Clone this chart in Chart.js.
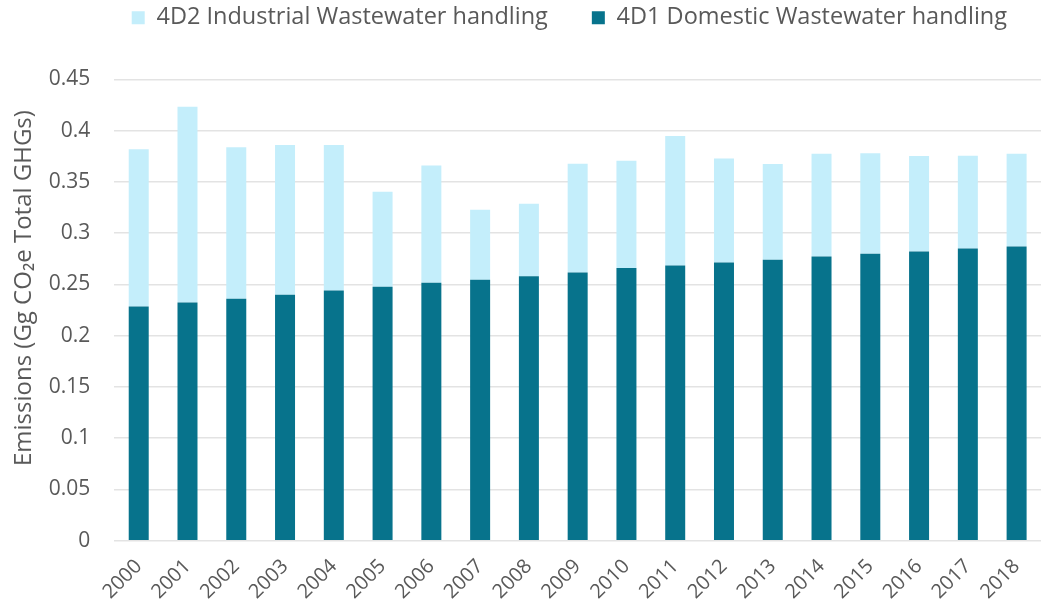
<!DOCTYPE html>
<html>
<head>
<meta charset="utf-8">
<script src="https://cdn.jsdelivr.net/npm/chart.js@4/dist/chart.umd.min.js"></script>
<style>
  html, body { margin: 0; padding: 0; background: #fff; }
  #wrap { width: 1041px; height: 610px; }
</style>
</head>
<body>
<div id="wrap"><canvas id="chartEmis"></canvas></div>
<script>
// data
const years = ['2000','2001','2002','2003','2004','2005','2006','2007','2008','2009',
               '2010','2011','2012','2013','2014','2015','2016','2017','2018'];
const domestic = [0.2285, 0.2324, 0.236, 0.240, 0.244, 0.2477, 0.2516, 0.2545, 0.258, 0.2617,
                  0.266, 0.2686, 0.2715, 0.274, 0.2773, 0.280, 0.2822, 0.2852, 0.2871];
const industrial = [0.1535, 0.191, 0.148, 0.146, 0.142, 0.0928, 0.1144, 0.0685, 0.0708, 0.1061,
                    0.1048, 0.1263, 0.1015, 0.0935, 0.1003, 0.098, 0.0931, 0.0904, 0.0905];
const yTicks = [0, 0.05, 0.1, 0.15, 0.2, 0.25, 0.3, 0.35, 0.4, 0.45];

const textColor = '#595959';
const gridColor = '#e3e3e3';
const fontFam = "'Open Sans', 'Noto Sans', sans-serif";

//legend - push plot area down below the legend
const legendGap = {
    id: 'legendGap',
    beforeInit(chart) {
        const fitLegend = chart.legend.fit;
        chart.legend.fit = function() {
            fitLegend.bind(chart.legend)();
            this.height += 40;
        };
    }
};

//y title - sits a bit above the middle of the axis
const titleShift = {
    id: 'titleShift',
    afterLayout(chart) {
        const scale = chart.scales.y;
        if (scale._titleShifted) return;
        const drawTitle = scale.drawTitle.bind(scale);
        scale.drawTitle = function() {
            this.ctx.save();
            this.ctx.translate(0, -22);
            drawTitle();
            this.ctx.restore();
        };
        scale._titleShifted = true;
    }
};

//chart - stacked bar
const ctx = document.getElementById('chartEmis').getContext('2d');
new Chart(ctx, {
    type: 'bar',
    data: {
        labels: years,
        datasets: [
            {
                label: '4D1 Domestic Wastewater handling',
                data: domestic,
                backgroundColor: '#07738c',
                barPercentage: 0.41,
                categoryPercentage: 1
            },
            {
                label: '4D2 Industrial Wastewater handling',
                data: industrial,
                backgroundColor: '#c4eefb',
                barPercentage: 0.41,
                categoryPercentage: 1
            }
        ]
    },
    options: {
        responsive: true,
        maintainAspectRatio: false,
        animation: false,
        layout: {
            padding: {left: 10, right: -10, top: -38, bottom: 0}
        },
        plugins: {
            legend: {
                position: 'top',
                align: 'end',
                reverse: true,
                labels: {
                    boxWidth: 13,
                    boxHeight: 13,
                    padding: 44,
                    color: textColor,
                    font: {family: fontFam, size: 23.5}
                }
            },
            tooltip: {enabled: false}
        },
        scales: {
            x: {
                stacked: true,
                grid: {display: false},
                border: {display: false},
                ticks: {
                    color: textColor,
                    minRotation: 45,
                    maxRotation: 45,
                    padding: 6,
                    font: {family: fontFam, size: 20}
                }
            },
            y: {
                stacked: true,
                min: 0,
                max: 0.45,
                afterBuildTicks: axis => {
                    axis.ticks = yTicks.map(v => ({value: v}));
                },
                ticks: {
                    color: textColor,
                    padding: 24,
                    font: {family: fontFam, size: 21},
                    callback: v => String(parseFloat(v.toFixed(2)))
                },
                grid: {
                    color: gridColor,
                    lineWidth: 1.5,
                    drawTicks: false
                },
                border: {display: false},
                title: {
                    display: true,
                    text: 'Emissions (Gg CO\u2082e Total GHGs)',
                    color: textColor,
                    font: {family: fontFam, size: 24},
                    padding: {top: 0, bottom: -14}
                }
            }
        }
    },
    plugins: [legendGap, titleShift]
});
</script>
</body>
</html>
